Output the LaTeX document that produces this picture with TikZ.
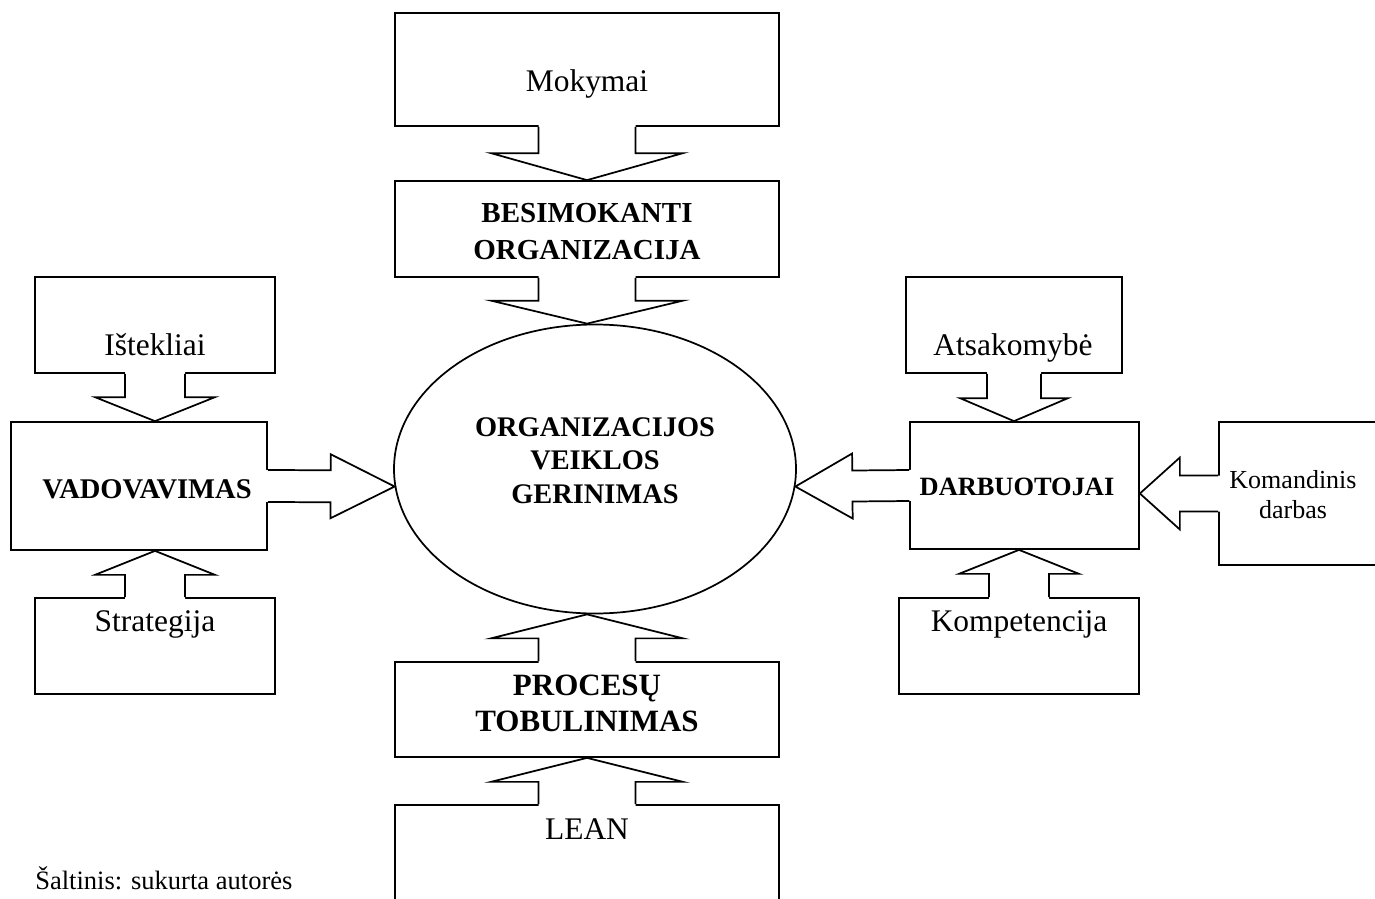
\documentclass[tikz,border=0pt]{standalone}
\usepackage{fontspec}
\setmainfont{Liberation Serif}
\usetikzlibrary{calc,shapes.geometric}

\def\px{0.75pt}
\tikzset{
  kontur/.style={line width=1.3pt, miter limit=20},
  blokas/.style 2 args={draw, kontur, fill=white, inner sep=0pt,
                        minimum width=#1*\px, minimum height=#2*\px},
  tekstas/.style={font=\fontsize{23.6}{28}\selectfont, anchor=base, inner sep=0pt},
  antraste/.style 2 args={font=\bfseries\fontsize{#1}{#2}\selectfont, align=center, inner sep=0pt},
}

% blokinė rodyklė: nuo, iki, pusė stiebo, pusė sparno, galvos ilgis (px)
\newcommand{\rodykle}[5]{%
  \coordinate (g) at ($(#2)!#5*\px!(#1)$);
  \coordinate (a) at ($(#1)!-2pt!(#2)$);
  \fill[white] ($(a)!#3*\px!90:(#2)$) -- ($(g)!#3*\px!90:(#2)$) -- ($(g)!#4*\px!90:(#2)$) -- (#2)
    -- ($(g)!#4*\px!-90:(#2)$) -- ($(g)!#3*\px!-90:(#2)$) -- ($(a)!#3*\px!-90:(#2)$) -- cycle;
  \draw[kontur] ($(#1)!#3*\px!90:(#2)$) -- ($(g)!#3*\px!90:(#2)$) -- ($(g)!#4*\px!90:(#2)$) -- (#2)
    -- ($(g)!#4*\px!-90:(#2)$) -- ($(g)!#3*\px!-90:(#2)$) -- ($(#1)!#3*\px!-90:(#2)$);
}

\begin{document}
\begin{tikzpicture}[x=\px, y=-\px]
  \useasboundingbox (0,0) rectangle (1375,899);
  \clip (0,0) rectangle (1375,899);

  % Blokai
  \node[blokas={384}{113}] (mokymai) at (587,69.5) {};
  \node[blokas={384}{96}] (besimokanti) at (587,229) {};
  \node[blokas={384}{95}] (procesai) at (587,709.5) {};
  \node[blokas={384}{115}] (lean) at (587,862.5) {};
  \node[blokas={240}{96}] (istekliai) at (155,325) {};
  \node[blokas={256}{128}] (vadovavimas) at (139,486) {};
  \node[blokas={240}{96}] (strategija) at (155,646) {};
  \node[blokas={216}{96}] (atsakomybe) at (1014,325) {};
  \node[blokas={229}{127}] (darbuotojai) at (1024.5,485.5) {};
  \node[blokas={240}{96}] (kompetencija) at (1019,646) {};
  \node[blokas={181}{143}] (komandinis) at (1309.5,493.5) {};
  \node[draw, kontur, ellipse, inner sep=0pt, minimum width=402*\px,
        minimum height=289*\px] (tikslas) at (595,469) {};

  % Rodyklės
  \coordinate (tv) at (tikslas.north -| besimokanti.south);
  \coordinate (ta) at (tikslas.south -| procesai.north);
  \coordinate (vi) at (vadovavimas.north -| istekliai.south);
  \coordinate (vs) at (vadovavimas.south -| strategija.north);
  \coordinate (da) at (darbuotojai.north -| atsakomybe.south);
  \coordinate (dk) at (darbuotojai.south -| kompetencija.north);
  \coordinate (kd) at (darbuotojai.east |- komandinis.west);
  \rodykle{mokymai.south}{besimokanti.north}{48.5}{96}{27}
  \rodykle{besimokanti.south}{tv}{48.5}{96}{23}
  \rodykle{procesai.north}{ta}{48.5}{96}{24}
  \rodykle{lean.north}{procesai.south}{48.5}{96}{24}
  \rodykle{istekliai.south}{vi}{30}{60}{24}
  \rodykle{strategija.north}{vs}{30}{60}{24}
  \rodykle{vadovavimas.east}{tikslas.185}{16}{32}{64}
  \rodykle{atsakomybe.south}{da}{27}{54}{23}
  \rodykle{kompetencija.north}{dk}{30}{60}{24}
  \rodykle{darbuotojai.west}{tikslas.355}{15.5}{32.5}{57}
  \rodykle{komandinis.west}{kd}{18}{36}{40}

  % Tekstai
  \node[tekstas] (tmokymai) at (587,92) {Mokymai};
  \node[antraste={21.75}{27.75}] (tbesimokanti) at (587,231.5) {BESIMOKANTI\\ORGANIZACIJA};
  \node[tekstas] (tistekliai) at (155,355) {Ištekliai};
  \node[antraste={21.4}{25}, anchor=base] (tvadovavimas) at (147,498) {VADOVAVIMAS};
  \node[tekstas] (tstrategija) at (155,631) {Strategija};
  \node[antraste={21.3}{25.1}] (ttikslas) at (595,460.5) {ORGANIZACIJOS\\VEIKLOS\\GERINIMAS};
  \node[tekstas] (tatsakomybe) at (1013,355) {Atsakomybė};
  \node[antraste={19.8}{24}, anchor=base] (tdarbuotojai) at (1017,495) {DARBUOTOJAI};
  \node[align=center, font=\fontsize{19.5}{22.5}\selectfont, inner sep=0pt] (tkomandinis)
    at (1293,495) {Komandinis\\darbas};
  \node[tekstas] (tkompetencija) at (1019,631) {Kompetencija};
  \node[antraste={23.25}{27}] (tprocesai) at (587,703) {PROCESŲ\\TOBULINIMAS};
  \node[tekstas] (tlean) at (587,839) {LEAN};
  \node[tekstas, anchor=base west, font=\fontsize{19.9}{24}\selectfont] (saltinis)
    at (35,889) {Šaltinis: sukurta autorės};
\end{tikzpicture}
\end{document}
